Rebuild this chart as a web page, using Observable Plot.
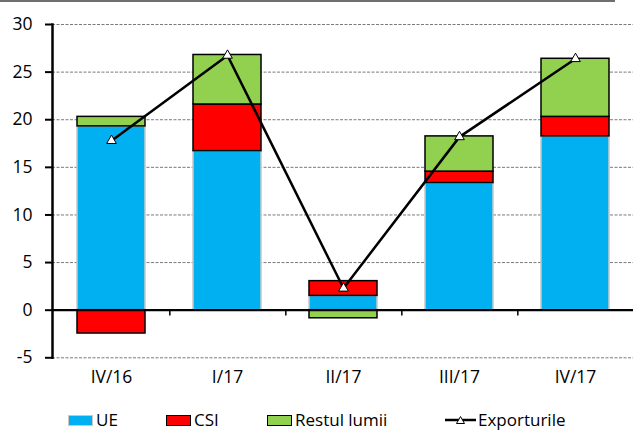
<!DOCTYPE html>
<html>
<head>
<meta charset="utf-8">
<script src="https://cdn.jsdelivr.net/npm/d3@7"></script>
<script src="https://cdn.jsdelivr.net/npm/@observablehq/plot@0.6"></script>
<style>
  html, body { margin: 0; padding: 0; background: #fff; }
  body { width: 633px; height: 431px; position: relative; overflow: hidden; font-family: "Open Sans", sans-serif; }
  #topline { position: absolute; left: 0; top: 0; width: 615px; height: 0; border-top: 2px solid #6f6f6f; }
  #chart { position: absolute; left: 0; top: 0; }
  #legend { position: absolute; left: 0; top: 400px; width: 633px; height: 31px; font-size: 17px; line-height: 20px; color: #000; }
  .item { position: absolute; top: 10px; height: 20px; display: flex; align-items: center; white-space: nowrap; }
  .sw { width: 25px; height: 11px; margin-right: 3px; box-sizing: border-box; }
</style>
</head>
<body>
<div id="chart"></div>
<div id="topline"></div>
<div id="legend"></div>
<script>
const categories = ["IV/16", "I/17", "II/17", "III/17", "IV/17"];
const seriesNames = ["UE", "CSI", "Restul lumii"];
const ue = [19.3, 16.7, 1.5, 13.35, 18.25];
const csi = [-2.45, 4.9, 1.55, 1.2, 2.05];
const restul = [1.0, 5.2, -0.85, 3.7, 6.1];
const exporturile = [17.8, 26.75, 2.3, 18.2, 26.4];
const yTicks = [-5, 0, 5, 10, 15, 20, 25, 30];

const colors = {"UE": "#00B0F0", "CSI": "#FF0000", "Restul lumii": "#92D050"};
const strokes = {"UE": "#c8c8c8", "CSI": "#000", "Restul lumii": "#000"};

const stacked = [];
categories.forEach((c, i) => {
  stacked.push({cat: c, series: "UE", value: ue[i]});
  stacked.push({cat: c, series: "CSI", value: csi[i]});
  stacked.push({cat: c, series: "Restul lumii", value: restul[i]});
});
const exp = categories.map((c, i) => ({cat: c, value: exporturile[i]}));

const W = 633, H = 400;
const pLeft = 52, pRight = 635.3, pTop = 24, pBottom = 357.3;
const step = (pRight - pLeft) / categories.length;

const chart = Plot.plot({
  width: W,
  height: H,
  marginLeft: pLeft,
  marginRight: 0,
  marginTop: pTop,
  marginBottom: H - pBottom,
  style: {fontFamily: "Open Sans, sans-serif", fontSize: "17px", color: "#000", background: "transparent"},
  x: {domain: categories, range: [pLeft, pRight], paddingInner: 0.41, paddingOuter: 0.205, label: null},
  y: {domain: [-5, 30], range: [pBottom, pTop], label: null},
  marks: [
    Plot.ruleY(yTicks.filter(d => d !== 0), {stroke: "#7a7a7a", strokeWidth: 1, strokeDasharray: "3,1.5"}),
    Plot.barY(stacked, Plot.stackY({
      x: "cat", y: "value", z: "series", order: seriesNames,
      fill: d => colors[d.series], stroke: d => strokes[d.series], strokeWidth: 1.5
    })),
    Plot.ruleY([0], {stroke: "#000", strokeWidth: 2.2}),
    Plot.ruleX(categories.slice(0, categories.length - 1), {x: d => d, y1: 0, y2: -0.6, dx: step / 2, stroke: "#000", strokeWidth: 1.5}),
    Plot.frame({anchor: "left", stroke: "#000", strokeWidth: 2.5}),
    Plot.axisY(yTicks, {tickSize: 7, tickPadding: 13, strokeWidth: 2, fontSize: 17.5, tickFormat: d => String(d)}),
    Plot.axisX({tickSize: 0, tickPadding: 13, fontSize: 17.5}),
    Plot.line(exp, {x: "cat", y: "value", stroke: "#000", strokeWidth: 2.5}),
    Plot.dot(exp, {x: "cat", y: "value", symbol: "triangle", r: 3.6, fill: "#fff", stroke: "#000", strokeWidth: 1})
  ]
});
document.getElementById("chart").appendChild(chart);

const legend = document.getElementById("legend");
const lefts = [68, 166, 267];
seriesNames.forEach((s, i) => {
  const it = document.createElement("div");
  it.className = "item";
  it.style.left = lefts[i] + "px";
  const sw = document.createElement("div");
  sw.className = "sw";
  sw.style.background = colors[s];
  sw.style.border = "1.5px solid " + (s === "UE" ? "#c8c8c8" : "#000");
  it.appendChild(sw);
  const t = document.createElement("span");
  t.textContent = s;
  it.appendChild(t);
  legend.appendChild(it);
});
const li = document.createElement("div");
li.className = "item";
li.style.left = "445px";
li.innerHTML = '<svg width="31" height="12" style="margin-right:2px"><line x1="0" y1="6" x2="31" y2="6" stroke="#000" stroke-width="2.5"/><path d="M15.5,2.5 L19.5,9.5 L11.5,9.5 Z" fill="#fff" stroke="#000" stroke-width="1"/></svg><span>Exporturile</span>';
legend.appendChild(li);
</script>
</body>
</html>
